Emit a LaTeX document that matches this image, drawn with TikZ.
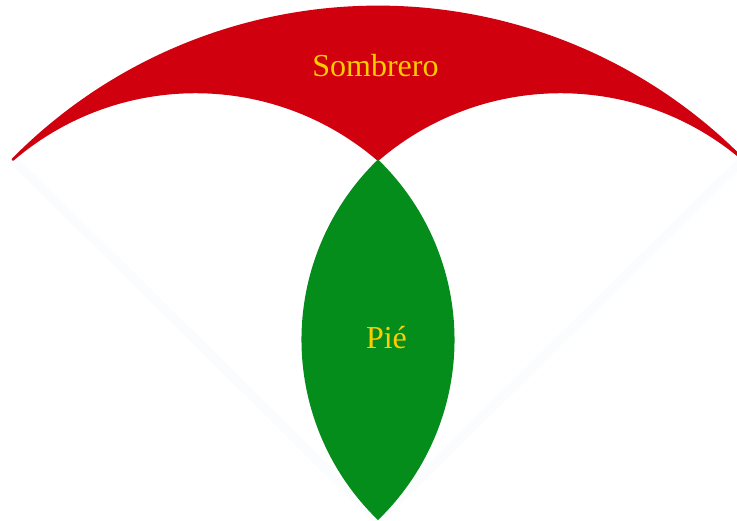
\documentclass[tikz,border=0pt]{standalone}
\usepackage{fontspec}
\setmainfont{Liberation Serif}
\definecolor{hatred}{RGB}{208,0,14}
\definecolor{footgreen}{RGB}{4,141,27}
\definecolor{labelgold}{RGB}{255,204,0}
\definecolor{faint}{RGB}{250,252,254}
\begin{document}
\begin{tikzpicture}[x=1pt,y=1pt,
  lbl/.style={text=labelgold,font=\fontsize{32}{38}\selectfont,inner sep=0pt},
  faintline/.style={draw=faint,line width=9pt}]
\useasboundingbox (0,0) rectangle (737,521);
\fill[white] (0,0) rectangle (737,521);
\coordinate (apex) at (378,1);
\coordinate (tl) at (12.9,361.5);
\coordinate (tr) at (743.1,361.5);
\coordinate (mid) at (378,361.5);
% faint wedge
\draw[faintline] (tl) -- (apex) -- (tr);
% hat
\filldraw[fill=hatred,draw=hatred,line width=2.5pt,line join=round] (tl) arc[start angle=135.37,end angle=44.63,radius=513.1]
  arc[start angle=49.41,end angle=130.59,radius=280.6]
  arc[start angle=49.41,end angle=130.59,radius=280.6] -- cycle;
% foot
\fill[footgreen] (mid) arc[start angle=46,end angle=-46,radius=250.6]
  arc[start angle=226,end angle=134,radius=250.6] -- cycle;
\node[lbl] (sombrero) at (375.5,455) {Sombrero};
\node[lbl] (pie) at (386.5,183) {Pié};
\end{tikzpicture}
\end{document}
